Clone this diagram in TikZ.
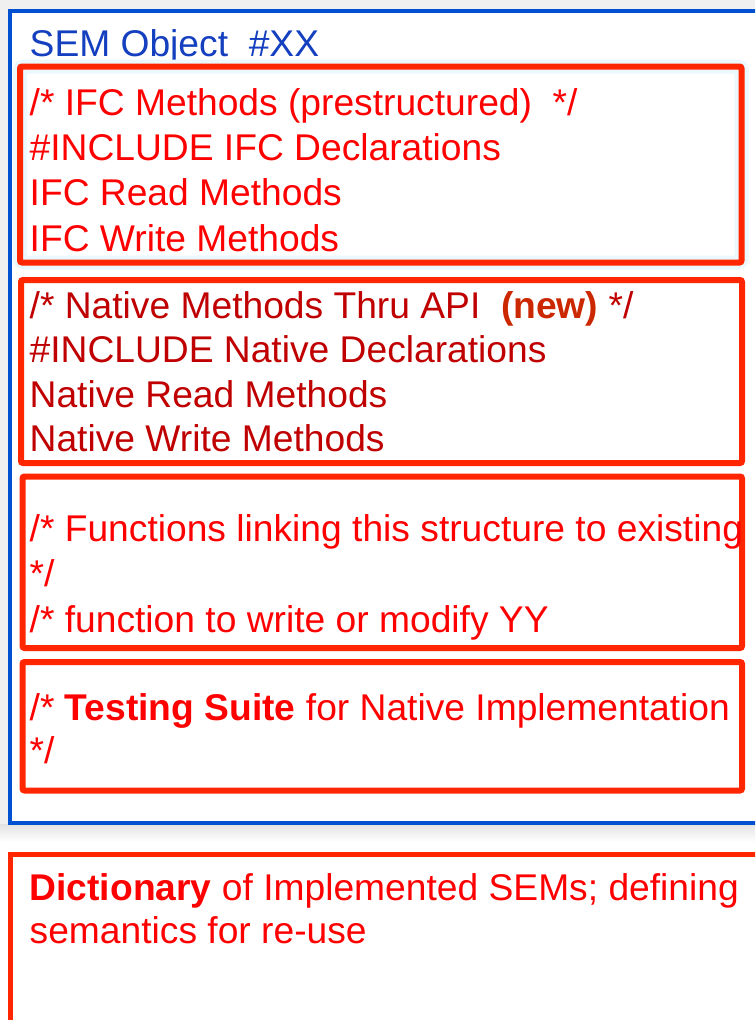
\documentclass[tikz,border=0pt]{standalone}
\usepackage{fontspec}
\setmainfont{Liberation Sans}
\definecolor{boxred}{RGB}{255,38,0}
\definecolor{txtred}{RGB}{255,0,0}
\definecolor{darkred}{RGB}{192,0,0}
\definecolor{newred}{RGB}{204,40,0}
\definecolor{boxblue}{RGB}{0,80,210}
\definecolor{txtblue}{RGB}{20,64,192}
\begin{document}
\begin{tikzpicture}[x=1pt,y=-1pt,
  redbox/.style={draw=boxred, line width=6pt, rounded corners=2pt},
  txt/.style={anchor=base west, inner sep=0pt, font=\fontsize{37.2}{44}\selectfont, text=txtred},
  dtxt/.style={txt, text=darkred}]
\useasboundingbox (0,0) rectangle (755,1020);
\clip (0,0) rectangle (755,1020);
\fill[white] (0,0) rectangle (755,1020);
% grey surroundings and shadow of the SEM object panel
\fill[gray!12] (0,0) rectangle (755,824);
\shade[top color=gray!22, bottom color=white] (0,824) rectangle (755,842);
% SEM object panel
\draw[draw=boxblue, line width=4pt, fill=white] (10,10.5) rectangle (770,822.5);
\node[txt, text=txtblue] (title) at (29.5,56) {SEM Object\ \ \#XX};
% glow around the first box
\draw[cyan!8, line width=14pt, rounded corners=4pt] (20,66.5) rectangle (741.5,262.5);
% boxes
\draw[redbox] (20,66.5) rectangle (741.5,262.5);
\draw[redbox] (21,280) rectangle (742,463);
\draw[redbox] (22.5,476.5) rectangle (742,648);
\draw[redbox] (22.5,662) rectangle (742,790.5);
\draw[draw=boxred, line width=5pt] (10,854) rectangle (775,1040);
% IFC box
\node[txt] (ifc1) at (29.5,115) {/* IFC Methods (prestructured)\ \ */};
\node[txt] (ifc2) at (29.5,160.3) {\#INCLUDE IFC Declarations};
\node[txt] (ifc3) at (29.5,205.6) {IFC Read Methods};
\node[txt] (ifc4) at (29.5,251) {IFC Write Methods};
% Native box
\node[dtxt] (nat1) at (29.5,318) {/* Native Methods Thru API\ \ {\bfseries\color{newred}(new)} */};
\node[dtxt] (nat2) at (29.5,362.5) {\#INCLUDE Native Declarations};
\node[dtxt] (nat3) at (29.5,407) {Native Read Methods};
\node[dtxt] (nat4) at (29.5,451) {Native Write Methods};
% Functions box
\node[txt] (fun1) at (29.5,541) {/* Functions linking this structure to existing};
\node[txt] (fun2) at (29.5,586) {*/};
\node[txt] (fun3) at (29.5,632) {/* function to write or modify YY};
% Testing box
\node[txt] (tst1) at (29.5,720) {/* {\bfseries Testing Suite} for Native Implementation};
\node[txt] (tst2) at (29.5,763) {*/};
% Dictionary box
\node[txt] (dic1) at (29.5,900) {{\bfseries Dictionary} of Implemented SEMs; defining};
\node[txt] (dic2) at (29.5,943) {semantics for re-use};
\end{tikzpicture}
\end{document}
